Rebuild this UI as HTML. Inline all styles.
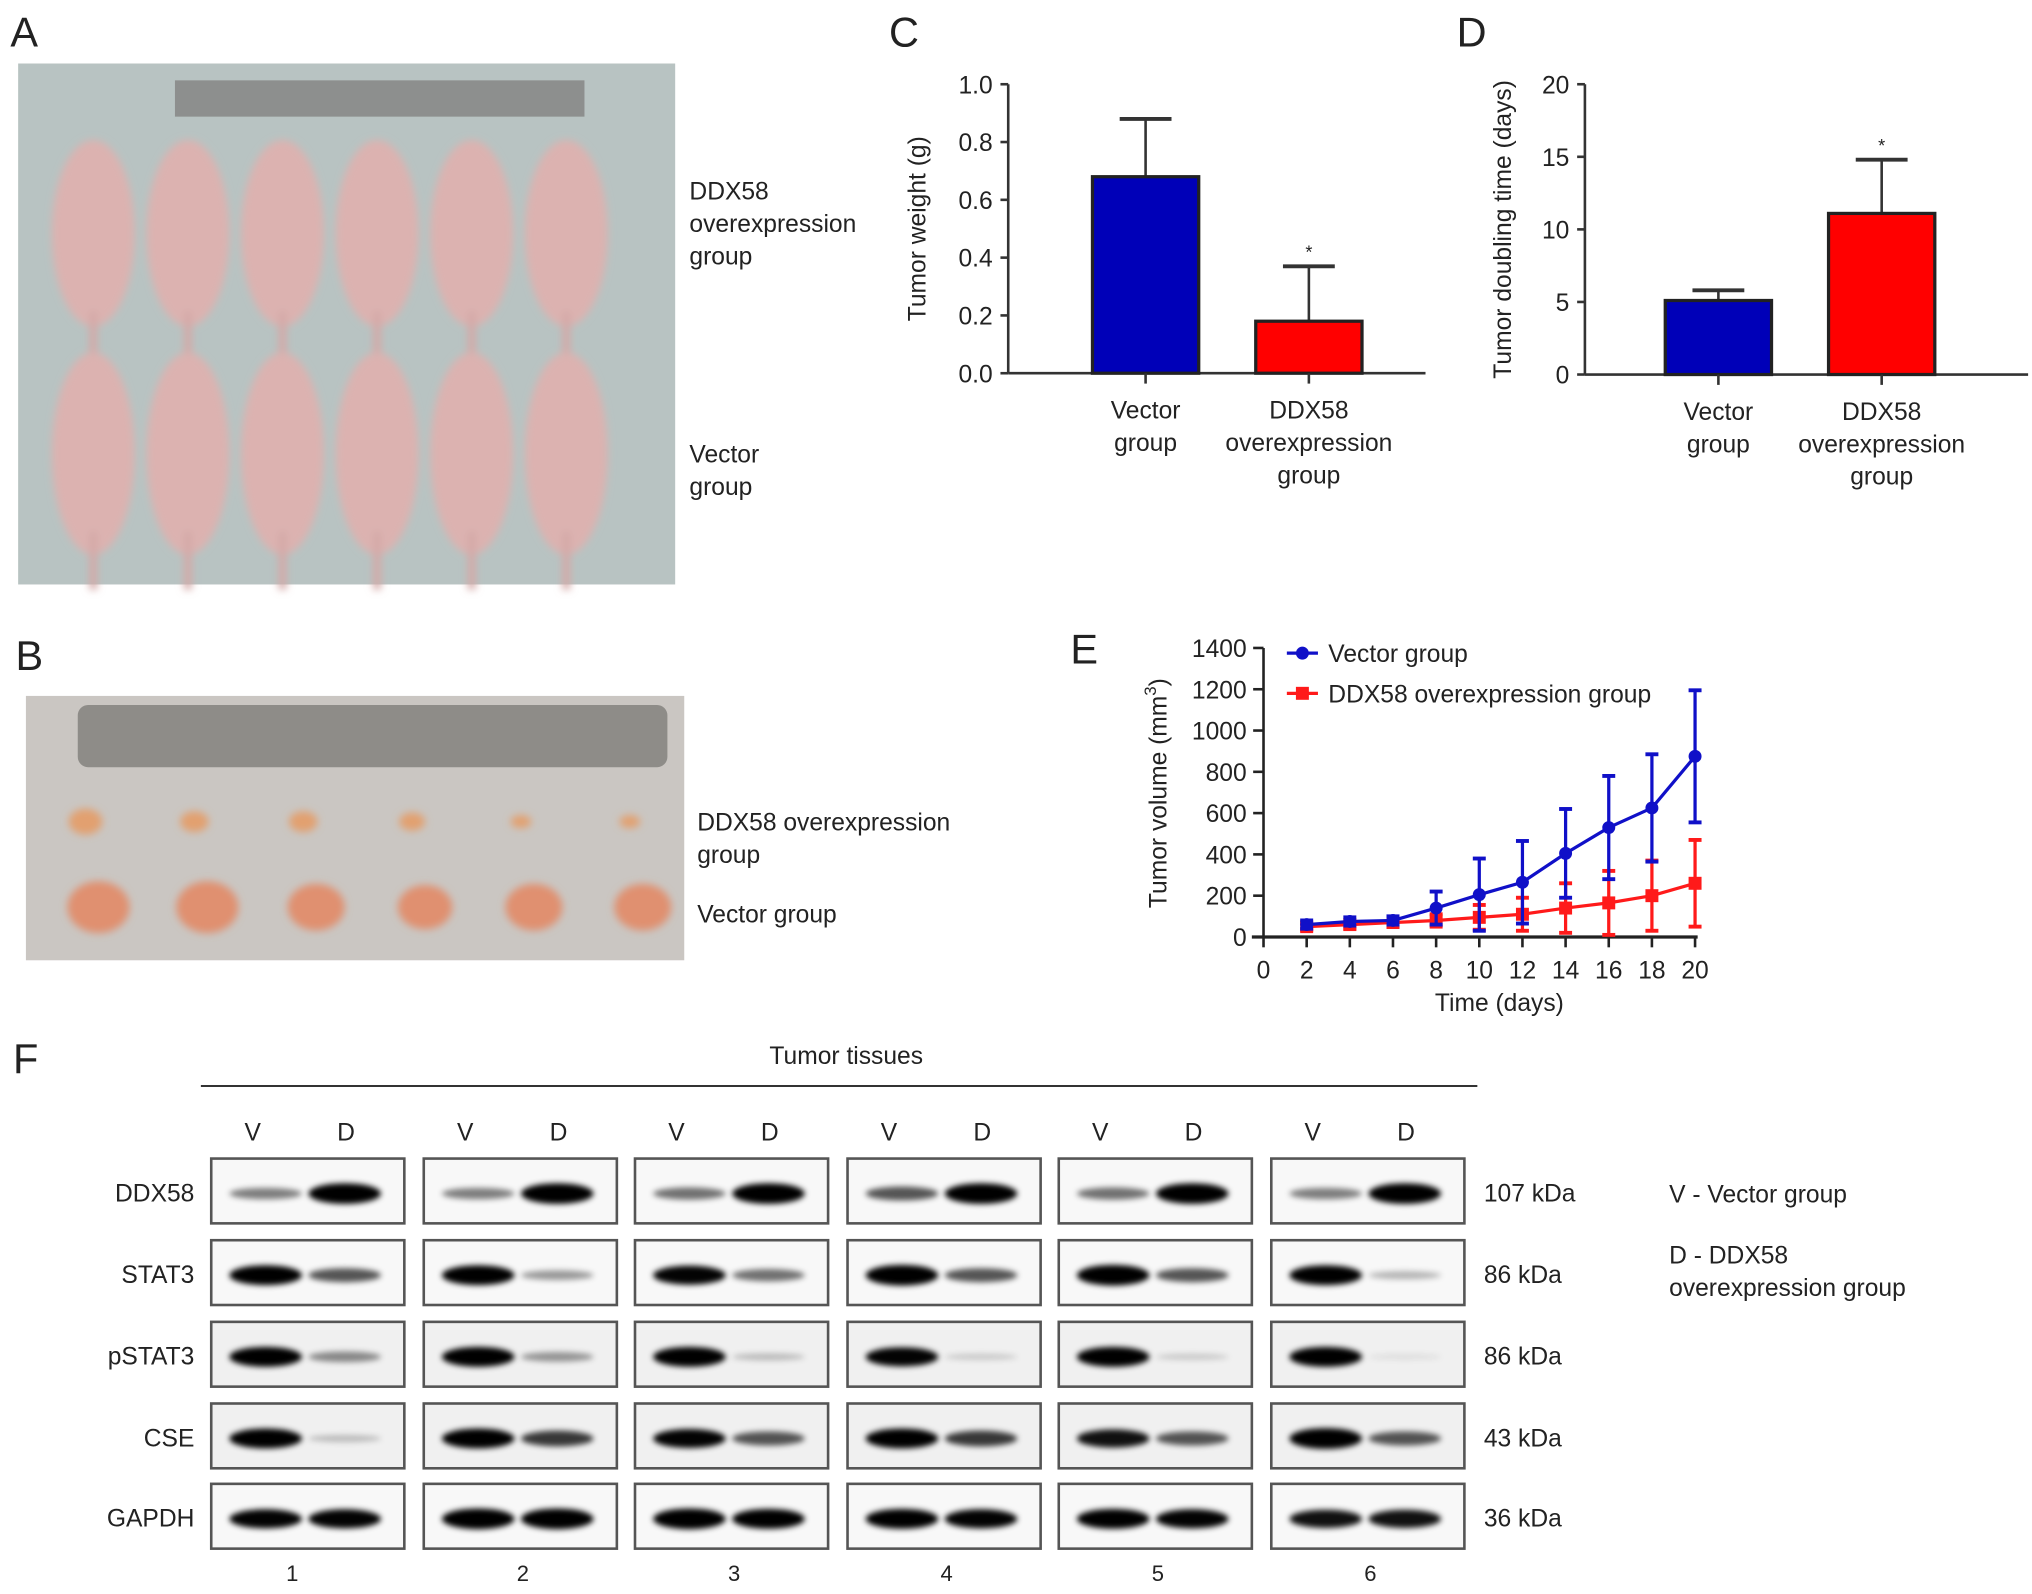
<!DOCTYPE html>
<html><head><meta charset="utf-8"><style>
html,body{margin:0;padding:0;background:#fff;}
svg{display:block;}
text{font-family:"Liberation Sans",Arial,sans-serif;fill:#222;}
</style></head><body>
<svg id="fig" width="2032" height="1594" viewBox="0 0 1568 1230" preserveAspectRatio="none" xmlns="http://www.w3.org/2000/svg">
<defs>
<filter id="blur" x="-20%" y="-100%" width="140%" height="300%"><feGaussianBlur stdDeviation="2.2"/></filter>
<filter id="blur2"><feGaussianBlur stdDeviation="3"/></filter>
</defs>

<g>
<text x="8" y="36" font-size="32">A</text>
<rect x="14" y="49" width="507" height="402" fill="#b8c3c2"/>
<rect x="135" y="62" width="316" height="28" fill="#8d8f8e"/>
<g id="mice" fill="#dcb2b0" filter="url(#blur2)"></g>
<text x="532" y="154" font-size="19"><tspan x="532">DDX58</tspan><tspan x="532" dy="25">overexpression</tspan><tspan x="532" dy="25">group</tspan></text>
<text x="532" y="357" font-size="19"><tspan x="532">Vector</tspan><tspan x="532" dy="25">group</tspan></text>
</g>

<g>
<text x="12" y="517" font-size="32">B</text>
<rect x="20" y="537" width="508" height="204" fill="#cac6c2"/>
<rect x="60" y="544" width="455" height="48" rx="8" fill="#8e8c88"/>
<g id="tumors" filter="url(#blur2)"></g>
<text x="538" y="641" font-size="19"><tspan x="538">DDX58 overexpression</tspan><tspan x="538" dy="25">group</tspan></text>
<text x="538" y="712" font-size="19">Vector group</text>
</g>

<g id="panelC"><text x="686" y="36" font-size="32">C</text></g>
<g id="panelD"><text x="1124" y="36" font-size="32">D</text></g>
<g id="panelE"><text x="826" y="512" font-size="32">E</text></g>
<g id="panelF"><text x="10" y="828" font-size="32">F</text></g>
</svg>
<script>
const NS="http://www.w3.org/2000/svg";
function mk(tag,attrs,parent,txt){const e=document.createElementNS(NS,tag);for(const k in attrs)e.setAttribute(k,attrs[k]);if(txt!==undefined)e.textContent=txt;parent.appendChild(e);return e;}

const barCategories=["Vector group","DDX58 overexpression group"];
const weightMeans=[0.68,0.18];
const weightErr=[0.20,0.19];
const weightTicks=["0.0","0.2","0.4","0.6","0.8","1.0"];
const doublingMeans=[5.1,11.1];
const doublingErr=[0.7,3.7];
const doublingTicks=["0","5","10","15","20"];
const days=[2,4,6,8,10,12,14,16,18,20];
const vectorVol=[60,75,80,140,205,265,405,530,625,875];
const vectorSD=[20,20,20,80,175,200,215,250,260,320];
const ddxVol=[50,60,70,80,95,110,140,165,200,260];
const ddxSD=[15,20,20,30,60,80,120,155,170,210];
const volTicks=[0,200,400,600,800,1000,1200,1400];
const dayTicks=[0,2,4,6,8,10,12,14,16,18,20];
const blotRows=["DDX58","STAT3","pSTAT3","CSE","GAPDH"];
const blotKDa=["107 kDa","86 kDa","86 kDa","43 kDa","36 kDa"];
const samples=["1","2","3","4","5","6"];
const bandDDX58=[[0.45,1],[0.45,1],[0.5,1],[0.6,1],[0.5,1],[0.45,1]];
const bandSTAT3=[[0.95,0.6],[0.95,0.35],[0.9,0.5],[1,0.6],[1,0.6],[0.95,0.25]];
const bandPSTAT3=[[0.95,0.4],[0.95,0.35],[0.95,0.2],[0.9,0.15],[0.95,0.15],[0.95,0.08]];
const bandCSE=[[0.95,0.2],[0.95,0.7],[0.9,0.6],[0.95,0.7],[0.85,0.6],[1,0.6]];
const bandGAPDH=[[0.9,0.9],[1,1],[1,0.95],[0.95,0.9],[0.95,0.9],[0.85,0.85]];

const mice=document.getElementById('mice');
for(let r=0;r<2;r++)for(let i=0;i<6;i++){
  const cx=72+i*73, cy=r?350:180;
  const e=mk('ellipse',{cx:cx,cy:cy,rx:32,ry:r?78:72},mice);
  
  
  mk('rect',{x:cx-3,y:cy+60,width:6,height:r?45:35,fill:'#d4a9a7'},mice);
}
const tum=document.getElementById('tumors');
const smallR=[10,8,8,7,5,5], bigR=[20,20,18,17,18,18];
for(let i=0;i<6;i++){
  const cx=66+i*84;
  const s=mk('ellipse',{cx:cx,cy:634,rx:smallR[i]+3,ry:smallR[i],fill:'#e2a070'},tum);
  
  
  const b=mk('ellipse',{cx:cx+10,cy:700,rx:bigR[i]+4,ry:bigR[i],fill:'#e09070'},tum);
  
  
}

function barChart(g,opt){
  const ax=opt.ax, y0=opt.y0, yTop=opt.yTop, max=opt.max;
  const Y=v=>y0-(v/max)*(y0-yTop);
  mk('line',{x1:ax,y1:yTop,x2:ax,y2:y0,stroke:'#333','stroke-width':2},g);
  mk('line',{x1:ax,y1:y0,x2:opt.xEnd,y2:y0,stroke:'#333','stroke-width':2},g);
  opt.ticks.forEach(t=>{const v=parseFloat(t);
    mk('line',{x1:ax-6,y1:Y(v),x2:ax,y2:Y(v),stroke:'#333','stroke-width':2},g);
    const tx=mk('text',{x:ax-12,y:Y(v)+7,'font-size':19,'text-anchor':'end'},g,t);
    
    
  });
  const ty=mk('text',{x:0,y:0,'font-size':19,'text-anchor':'middle',transform:`translate(${opt.titleX},${(y0+yTop)/2}) rotate(-90)`},g,opt.title);
  
  
  const cols=['#0000b8','#ff0000'];
  opt.means.forEach((m,i)=>{
    const cx=opt.centers[i];
    mk('line',{x1:cx,y1:Y(m),x2:cx,y2:Y(m+opt.err[i]),stroke:'#333','stroke-width':2},g);
    mk('line',{x1:cx-20,y1:Y(m+opt.err[i]),x2:cx+20,y2:Y(m+opt.err[i]),stroke:'#333','stroke-width':3},g);
    const r=mk('rect',{x:cx-41,y:Y(m),width:82,height:y0-Y(m),fill:cols[i],stroke:'#222','stroke-width':2.5},g);
    
    
    if(i==1){const s=mk('text',{x:cx,y:Y(m+opt.err[i])-6,'font-size':14,'text-anchor':'middle'},g,'*');
      
      }
    mk('line',{x1:cx,y1:y0,x2:cx,y2:y0+8,stroke:'#333','stroke-width':2},g);
    const lines=i?["DDX58","overexpression","group"]:["Vector","group"];
    const t=mk('text',{x:cx,y:y0+35,'font-size':19,'text-anchor':'middle'},g);
    
    
    lines.forEach((l,k)=>mk('tspan',{x:cx,dy:k?25:0},t,l));
  });
}
barChart(document.getElementById('panelC'),{ax:778,y0:288,yTop:65,max:1.0,xEnd:1100,ticks:weightTicks,means:weightMeans,err:weightErr,centers:[884,1010],title:'Tumor weight (g)',titleX:714});
barChart(document.getElementById('panelD'),{ax:1223,y0:289,yTop:65,max:20,xEnd:1565,ticks:doublingTicks,means:doublingMeans,err:doublingErr,centers:[1326,1452],title:'Tumor doubling time (days)',titleX:1166});

(function(){
  const g=document.getElementById('panelE');
  const X=d=>975+d/20*333, Y=v=>723-v/1400*223;
  mk('line',{x1:975,y1:Y(1400),x2:975,y2:723,stroke:'#222','stroke-width':2},g);
  mk('line',{x1:966,y1:723,x2:1310,y2:723,stroke:'#222','stroke-width':2.5},g);
  volTicks.forEach(v=>{mk('line',{x1:967,y1:Y(v),x2:975,y2:Y(v),stroke:'#222','stroke-width':2},g);
    const t=mk('text',{x:962,y:Y(v)+7,'font-size':19,'text-anchor':'end'},g,String(v));
    
    });
  dayTicks.forEach(d=>{mk('line',{x1:X(d),y1:723,x2:X(d),y2:731,stroke:'#222','stroke-width':2},g);
    const t=mk('text',{x:X(d),y:755,'font-size':19,'text-anchor':'middle'},g,String(d));
    
    });
  const xt=mk('text',{x:1157,y:780,'font-size':19,'text-anchor':'middle'},g,'Time (days)');
  
  
  const yt=mk('text',{x:0,y:0,'font-size':19,'text-anchor':'middle',transform:'translate(900,612) rotate(-90)'},g);
  
  
  mk('tspan',{},yt,'Tumor volume (mm');mk('tspan',{dy:-8,'font-size':13},yt,'3');mk('tspan',{dy:8},yt,')');
  function series(vals,sd,col,square,name){
    const pts=days.map((d,i)=>X(d)+','+Y(vals[i])).join(' ');
    days.forEach((d,i)=>{const x=X(d);const hi=Y(vals[i]+sd[i]),lo=Y(Math.max(0,vals[i]-sd[i]));
      mk('line',{x1:x,y1:hi,x2:x,y2:lo,stroke:col,'stroke-width':2.5},g);
      mk('line',{x1:x-5,y1:hi,x2:x+5,y2:hi,stroke:col,'stroke-width':3},g);
      mk('line',{x1:x-5,y1:lo,x2:x+5,y2:lo,stroke:col,'stroke-width':3},g);});
    const l=mk('polyline',{points:pts,fill:'none',stroke:col,'stroke-width':2.5},g);
    
    
    days.forEach((d,i)=>{const m=square?mk('rect',{x:X(d)-5,y:Y(vals[i])-5,width:10,height:10,fill:col},g):mk('circle',{cx:X(d),cy:Y(vals[i]),r:5,fill:col},g);
      
      });
  }
  series(ddxVol,ddxSD,'#ff1a1a',true,'ddx58');
  series(vectorVol,vectorSD,'#1010c8',false,'vector');
  const l1=mk('g',{},g);
  mk('line',{x1:993,y1:504,x2:1017,y2:504,stroke:'#1010c8','stroke-width':2.5},l1);mk('circle',{cx:1005,cy:504,r:5,fill:'#1010c8'},l1);
  mk('text',{x:1025,y:511,'font-size':19},l1,'Vector group');
  const l2=mk('g',{},g);
  mk('line',{x1:993,y1:535,x2:1017,y2:535,stroke:'#ff1a1a','stroke-width':2.5},l2);mk('rect',{x:1000,y:530,width:10,height:10,fill:'#ff1a1a'},l2);
  mk('text',{x:1025,y:542,'font-size':19},l2,'DDX58 overexpression group');
})();

(function(){
  const g=document.getElementById('panelF');
  const t=mk('text',{x:653,y:821,'font-size':19,'text-anchor':'middle'},g,'Tumor tissues');
  
  mk('line',{x1:155,y1:838,x2:1140,y2:838,stroke:'#333','stroke-width':1.5},g);
  const colX=[163,327,490,654,817,981], rowY=[894,957,1020,1083,1145], W=149,H=50;
  const bands=[bandDDX58,bandSTAT3,bandPSTAT3,bandCSE,bandGAPDH];
  blotRows.forEach((name,r)=>{
    const lt=mk('text',{x:150,y:rowY[r]+33,'font-size':19,'text-anchor':'end'},g,name);
    
    const kt=mk('text',{x:1145,y:rowY[r]+33,'font-size':19},g,blotKDa[r]);
    
  });
  samples.forEach((s,c)=>{
    const cx=colX[c];
    mk('text',{x:cx+32,y:880,'font-size':19,'text-anchor':'middle'},g,'V');
    mk('text',{x:cx+104,y:880,'font-size':19,'text-anchor':'middle'},g,'D');
    const n=mk('text',{x:cx+W/2+(c==0?-12:2),y:1220,'font-size':17,'text-anchor':'middle'},g,s);
    
    rowY.forEach((y,r)=>{
      const box=mk('rect',{x:cx,y:y,width:W,height:H,fill:r==2||r==3?'#f0f0f0':'#f8f8f8',stroke:'#555','stroke-width':2},g);
      
      const bg=mk('g',{filter:'url(#blur)'},g);
      bands[r][c].forEach((v,k)=>{
        const bx=cx+(k?103:42), th=3+v*13;
        const e=mk('ellipse',{cx:bx,cy:y+27,rx:28,ry:th/2,fill:'#000','fill-opacity':Math.min(1,v*1.1)},bg);
        
      });
    });
  });
  const lg=mk('text',{x:1288,y:928,'font-size':19},g,'V - Vector group');
  
  const ld=mk('text',{x:1288,y:975,'font-size':19},g);
  
  mk('tspan',{x:1288},ld,'D - DDX58');mk('tspan',{x:1288,dy:25},ld,'overexpression group');
})();
</script>
</body></html>
